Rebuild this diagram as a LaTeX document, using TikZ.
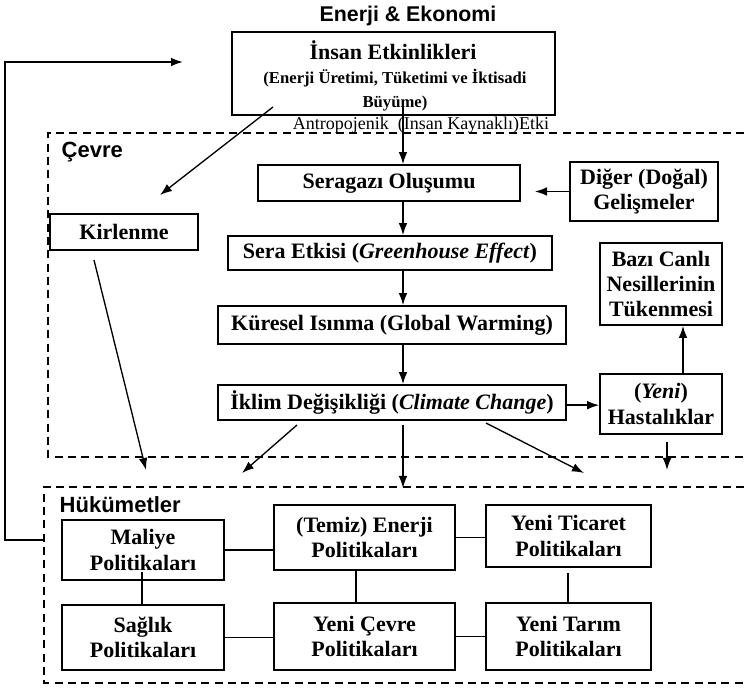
\documentclass[tikz,border=0pt]{standalone}
\usepackage{fontspec}
\setmainfont{Liberation Serif}
\newfontfamily\headfont{Liberation Sans}
\usetikzlibrary{arrows.meta}
\newcommand\boxfont{\fontsize{16.5}{19}\selectfont\bfseries}
% framed box given by its corners (x1,y1) and (x2,y2), in pixel units
\newcommand\pbox[6]{%
  \node[box, minimum width={(#4-#2)*0.75pt}, minimum height={(#5-#3)*0.75pt}]
    (#1) at ({(#2+#4)/2},{(#3+#5)/2}) {#6};}
\begin{document}
\begin{tikzpicture}[x=0.75pt,y=-0.75pt,
  box/.style={draw, line width=1.3pt, inner sep=0pt, align=center, font=\boxfont},
  link/.style={line width=1pt},
  arr/.style={link, -{Latex[length=9pt,width=6.5pt]}},
  frame/.style={line width=1.3pt, dash pattern=on 6pt off 4pt},
  head/.style={font=\headfont\bfseries\fontsize{16.5}{19}\selectfont}]
\useasboundingbox (0,0) rectangle (744,688);

% --- Energy & economy ---
\node[head, font=\headfont\bfseries\fontsize{16}{19}\selectfont] (title) at (408,16) {Enerji \& Ekonomi};
\pbox{insan}{232}{32}{555}{115}{}
\node[font=\fontsize{16.5}{19}\selectfont\bfseries] (insanname) at (393,50) {İnsan Etkinlikleri};
\node[font=\fontsize{12.5}{18}\selectfont\bfseries, align=center] (insandesc) at (395,90)
  {(Enerji Üretimi, Tüketimi ve İktisadi\\Büyüme)};
\node[font=\fontsize{13.5}{16}\selectfont] (antro) at (421,124) {Antropojenik\ \ (İnsan Kaynaklı)Etki};

% --- Environment frame ---
\draw[frame] (744,133) -- (48,133) -- (48,457) -- (744,457);
\node[head, anchor=west] (cevre) at (57,152) {Çevre};

\pbox{seragazi}{258}{165}{520}{201}{Seragazı Oluşumu}
\pbox{diger}{570}{162}{718}{221}{Diğer (Doğal)\\Gelişmeler}
\pbox{kirlenme}{50}{214}{198}{250}{Kirlenme}
\pbox{sera}{228}{236}{552}{270}{Sera Etkisi (\textit{Greenhouse Effect})}
\pbox{bazi}{600}{243}{722}{325}{Bazı Canlı\\Nesillerinin\\Tükenmesi}
\pbox{kuresel}{218}{306}{566}{344}{Küresel Isınma (Global Warming)}
\pbox{iklim}{218}{385}{566}{420}{İklim Değişikliği (\textit{Climate Change})}
\pbox{hastalik}{600}{374}{722}{434}{(\textit{Yeni})\\Hastalıklar}

% --- Governments frame ---
\draw[frame] (744,487) -- (44,487) -- (44,683) -- (744,683);
\node[head, anchor=west] (hukumet) at (55,505) {Hükümetler};

\pbox{maliye}{62}{520}{224}{580}{Maliye\\Politikaları}
\pbox{enerji}{274}{505}{455}{570}{(Temiz) Enerji\\Politikaları}
\pbox{ticaret}{486}{505}{651}{567}{Yeni Ticaret\\Politikaları}
\pbox{saglik}{62}{605}{224}{670}{Sağlık\\Politikaları}
\pbox{cevrepol}{274}{603}{455}{670}{Yeni Çevre\\Politikaları}
\pbox{tarim}{486}{603}{651}{670}{Yeni Tarım\\Politikaları}

% --- helper coordinates ---
\coordinate (insanS) at (403,107);
\coordinate (insanW) at (273,107);
\coordinate (kirlTip) at (160,195);
\coordinate (digerTip) at (535,191.5);
\coordinate (kirlS) at (94,260);
\coordinate (kirlTip2) at (146,470);
\coordinate (hx) at (683,0);
\coordinate (hastTip) at (667,470);
\coordinate (iklA) at (297,425);
\coordinate (iklAtip) at (242,473);
\coordinate (iklB) at (403,425);
\coordinate (iklBtip) at (403,488);
\coordinate (iklC) at (486,423);
\coordinate (iklCtip) at (584,473);
\coordinate (malV) at (142,572);
\coordinate (enV) at (356,0);
\coordinate (tiV) at (568,0);
\coordinate (loopS) at (44,540);
\coordinate (loopTip) at (183,62);

% --- environment chain ---
\draw[arr] (insanS) -- (insanS |- seragazi.north);
\draw[arr] (insanW) -- (kirlTip);
\draw[arr] (seragazi.south -| insanS) -- (sera.north -| insanS);
\draw[arr] (sera.south -| insanS) -- (kuresel.north -| insanS);
\draw[arr] (kuresel.south -| insanS) -- (iklim.north -| insanS);
\draw[arr] (diger.west) -- (digerTip);
\draw[arr] ([yshift=-2pt]iklim.east) -- ([yshift=-2pt]hastalik.west |- iklim.east);
\draw[arr] (hastalik.north -| hx) -- (bazi.south -| hx);
\draw[arr, shorten <=5pt] (hastalik.south -| hastTip) -- (hastTip);
\draw[arr] (kirlS) -- (kirlTip2);
\draw[arr] (iklA) -- (iklAtip);
\draw[arr] (iklB) -- (iklBtip);
\draw[arr] (iklC) -- (iklCtip);

% --- policy links ---
\draw[link] (maliye.east) -- (enerji.west |- maliye.east);
\draw[link] (enerji.east) -- (ticaret.west |- enerji.east);
\draw[link] (malV) -- (malV |- saglik.north);
\draw[link] (enerji.south -| enV) -- (cevrepol.north -| enV);
\draw[link, shorten <=4pt] (ticaret.south -| tiV) -- (tarim.north -| tiV);
\draw[link] (saglik.east) -- (cevrepol.west |- saglik.east);
\draw[link] (cevrepol.east) -- (tarim.west |- cevrepol.east);

% --- feedback loop ---
\draw[arr, line width=1.3pt] (loopS) -- ++(-39,0) |- (loopTip);
\end{tikzpicture}
\end{document}
